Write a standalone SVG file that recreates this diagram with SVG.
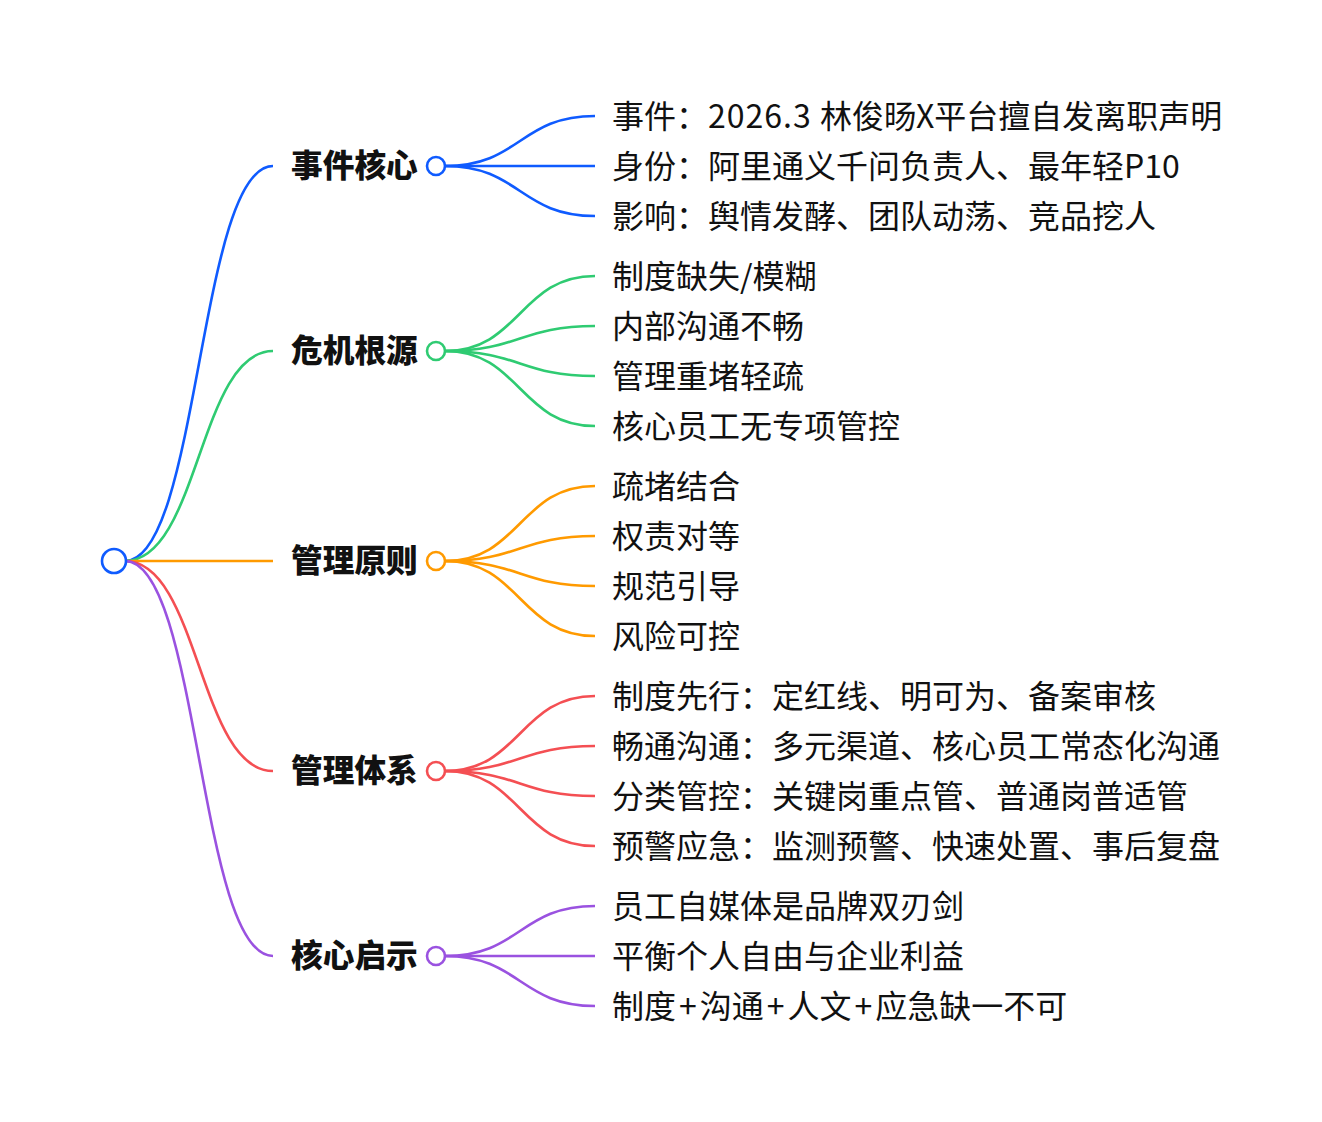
<svg xmlns="http://www.w3.org/2000/svg" width="1322" height="1122" viewBox="0 0 1322 1122">
<style>
.edge{fill:none;stroke-width:2.6}
.b1{stroke:#0f5bff}.b2{stroke:#2fcb72}.b3{stroke:#ff9a00}.b4{stroke:#f44f53}.b5{stroke:#9a52e0}
.dot{fill:#fff;stroke-width:2.6}
.lbl{font-family:"Noto Sans CJK SC","Noto Sans",sans-serif;font-size:31.7px;font-weight:900;fill:#111}
.leaf{font-family:"Noto Sans CJK SC","Noto Sans",sans-serif;font-size:32px;fill:#111}
.sp{letter-spacing:1px}
</style>
<rect width="1322" height="1122" fill="#fff"/>
<g id="connectors">
<path class="edge b1" d="M125,561 C199,561 199,166 273,166"/>
<path class="edge b2" d="M125,561 C199,561 199,351 273,351"/>
<path class="edge b3" d="M125,561 L273,561"/>
<path class="edge b4" d="M125,561 C199,561 199,771 273,771"/>
<path class="edge b5" d="M125,561 C199,561 199,956 273,956"/>
<path class="edge b1" d="M445,166 C520,166 520,116 595,116"/>
<path class="edge b1" d="M445,166 L595,166"/>
<path class="edge b1" d="M445,166 C520,166 520,216 595,216"/>
<path class="edge b2" d="M445,351 C520,351 520,276 595,276"/>
<path class="edge b2" d="M445,351 C520,351 520,326 595,326"/>
<path class="edge b2" d="M445,351 C520,351 520,376 595,376"/>
<path class="edge b2" d="M445,351 C520,351 520,426 595,426"/>
<path class="edge b3" d="M445,561 C520,561 520,486 595,486"/>
<path class="edge b3" d="M445,561 C520,561 520,536 595,536"/>
<path class="edge b3" d="M445,561 C520,561 520,586 595,586"/>
<path class="edge b3" d="M445,561 C520,561 520,636 595,636"/>
<path class="edge b4" d="M445,771 C520,771 520,696 595,696"/>
<path class="edge b4" d="M445,771 C520,771 520,746 595,746"/>
<path class="edge b4" d="M445,771 C520,771 520,796 595,796"/>
<path class="edge b4" d="M445,771 C520,771 520,846 595,846"/>
<path class="edge b5" d="M445,956 C520,956 520,906 595,906"/>
<path class="edge b5" d="M445,956 L595,956"/>
<path class="edge b5" d="M445,956 C520,956 520,1006 595,1006"/>
</g>
<g id="root"><circle class="dot b1" cx="114" cy="561" r="12" stroke-width="3"/></g>
<g id="n1"><text class="lbl" x="291" y="177">事件核心</text><circle class="dot b1" cx="436" cy="166" r="9"/></g>
<g id="n2"><text class="lbl" x="291" y="362">危机根源</text><circle class="dot b2" cx="436" cy="351" r="9"/></g>
<g id="n3"><text class="lbl" x="291" y="572">管理原则</text><circle class="dot b3" cx="436" cy="561" r="9"/></g>
<g id="n4"><text class="lbl" x="291" y="782">管理体系</text><circle class="dot b4" cx="436" cy="771" r="9"/></g>
<g id="n5"><text class="lbl" x="291" y="967">核心启示</text><circle class="dot b5" cx="436" cy="956" r="9"/></g>
<g id="leaves1">
<text class="leaf" x="612" y="128">事件：<tspan class="sp">2026.3 </tspan>林俊旸X平台擅自发离职声明</text>
<text class="leaf" x="612" y="178">身份：阿里通义千问负责人、最年轻P10</text>
<text class="leaf" x="612" y="228">影响：舆情发酵、团队动荡、竞品挖人</text>
</g>
<g id="leaves2">
<text class="leaf" x="612" y="288">制度缺失/模糊</text>
<text class="leaf" x="612" y="338">内部沟通不畅</text>
<text class="leaf" x="612" y="388">管理重堵轻疏</text>
<text class="leaf" x="612" y="438">核心员工无专项管控</text>
</g>
<g id="leaves3">
<text class="leaf" x="612" y="498">疏堵结合</text>
<text class="leaf" x="612" y="548">权责对等</text>
<text class="leaf" x="612" y="598">规范引导</text>
<text class="leaf" x="612" y="648">风险可控</text>
</g>
<g id="leaves4">
<text class="leaf" x="612" y="708">制度先行：定红线、明可为、备案审核</text>
<text class="leaf" x="612" y="758">畅通沟通：多元渠道、核心员工常态化沟通</text>
<text class="leaf" x="612" y="808">分类管控：关键岗重点管、普通岗普适管</text>
<text class="leaf" x="612" y="858">预警应急：监测预警、快速处置、事后复盘</text>
</g>
<g id="leaves5">
<text class="leaf" x="612" y="918">员工自媒体是品牌双刃剑</text>
<text class="leaf" x="612" y="968">平衡个人自由与企业利益</text>
<text class="leaf" x="612" y="1018">制度<tspan dx="3">+</tspan><tspan dx="3">沟通</tspan><tspan dx="3">+</tspan><tspan dx="3">人文</tspan><tspan dx="3">+</tspan><tspan dx="3">应急缺一不可</tspan></text>
</g>
</svg>
